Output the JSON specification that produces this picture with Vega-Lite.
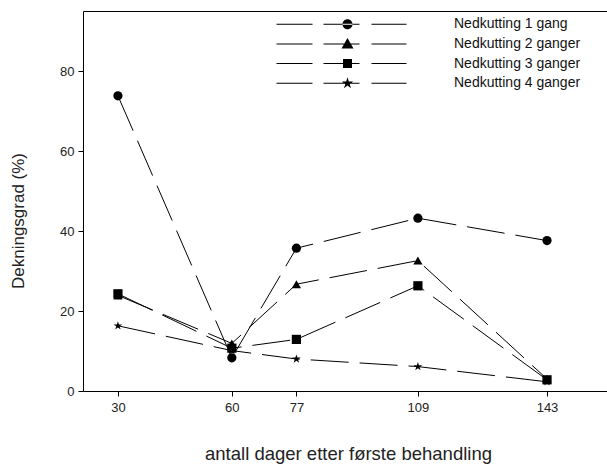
{
  "$schema": "https://vega.github.io/schema/vega-lite/v6.json",
  "width": 524,
  "height": 380,
  "autosize": {"type": "none"},
  "padding": {"left": 83, "top": 11, "right": 0, "bottom": 74},
  "background": "white",
  "config": {
    "view": {"stroke": null},
    "font": "Liberation Sans",
    "axis": {
      "grid": false,
      "domainColor": "black",
      "domainWidth": 1,
      "tickColor": "black",
      "tickSize": 5,
      "labelColor": "#222",
      "titleColor": "#222",
      "labelFontSize": 13,
      "labelFont": "Liberation Sans",
      "titleFont": "Liberation Sans",
      "titleFontWeight": "normal"
    }
  },
  "data": {
    "values": [
      {"dager": 30, "verdi": 73.8, "serie": "Nedkutting 1 gang"},
      {"dager": 60, "verdi": 8.3, "serie": "Nedkutting 1 gang"},
      {"dager": 77, "verdi": 35.7, "serie": "Nedkutting 1 gang"},
      {"dager": 109, "verdi": 43.2, "serie": "Nedkutting 1 gang"},
      {"dager": 143, "verdi": 37.6, "serie": "Nedkutting 1 gang"},
      {"dager": 30, "verdi": 23.9, "serie": "Nedkutting 2 ganger"},
      {"dager": 60, "verdi": 11.9, "serie": "Nedkutting 2 ganger"},
      {"dager": 77, "verdi": 26.7, "serie": "Nedkutting 2 ganger"},
      {"dager": 109, "verdi": 32.6, "serie": "Nedkutting 2 ganger"},
      {"dager": 143, "verdi": 3.0, "serie": "Nedkutting 2 ganger"},
      {"dager": 30, "verdi": 24.3, "serie": "Nedkutting 3 ganger"},
      {"dager": 60, "verdi": 10.7, "serie": "Nedkutting 3 ganger"},
      {"dager": 77, "verdi": 12.9, "serie": "Nedkutting 3 ganger"},
      {"dager": 109, "verdi": 26.3, "serie": "Nedkutting 3 ganger"},
      {"dager": 143, "verdi": 2.8, "serie": "Nedkutting 3 ganger"},
      {"dager": 30, "verdi": 16.3, "serie": "Nedkutting 4 ganger"},
      {"dager": 60, "verdi": 10.1, "serie": "Nedkutting 4 ganger"},
      {"dager": 77, "verdi": 8.0, "serie": "Nedkutting 4 ganger"},
      {"dager": 109, "verdi": 6.1, "serie": "Nedkutting 4 ganger"},
      {"dager": 143, "verdi": 2.3, "serie": "Nedkutting 4 ganger"}
    ]
  },
  "layer": [
    {
      "mark": {"type": "line", "color": "black", "strokeWidth": 1, "strokeDash": [38, 11]},
      "encoding": {
        "x": {
          "field": "dager", "type": "quantitative",
          "scale": {"domain": [20.8, 158.8], "nice": false, "zero": false},
          "axis": {
            "values": [30, 60, 77, 109, 143],
            "title": "antall dager etter første behandling",
            "titleFontSize": 18.5, "labelPadding": 5,
            "titleX": 265, "titleY": 62, "titleBaseline": "middle", "titleAlign": "center"
          }
        },
        "y": {
          "field": "verdi", "type": "quantitative",
          "scale": {"domain": [0, 95], "nice": false},
          "axis": {
            "values": [0, 20, 40, 60, 80],
            "title": "Dekningsgrad (%)",
            "titleFontSize": 17, "labelPadding": 4,
            "titleX": -64.5, "titleY": 209.5, "titleBaseline": "middle", "titleAlign": "center"
          }
        },
        "detail": {"field": "serie"}
      }
    },
    {
      "mark": {"type": "point", "filled": true, "color": "black", "opacity": 1, "size": 85},
      "encoding": {
        "x": {
          "field": "dager", "type": "quantitative",
          "axis": {"orient": "top", "labels": false, "ticks": false, "title": null, "domain": true}
        },
        "y": {"field": "verdi", "type": "quantitative"},
        "shape": {
          "field": "serie", "type": "nominal",
          "scale": {"range": ["circle", "triangle-up", "square", "M0,-1L0.2234,-0.3074L0.9511,-0.309L0.3614,0.1174L0.5878,0.809L0,0.38L-0.5878,0.809L-0.3614,0.1174L-0.9511,-0.309L-0.2234,-0.3074Z"]},
          "legend": null
        }
      }
    },
    {
      "mark": {"type": "point", "filled": true, "fill": "black", "opacity": 0, "size": 1},
      "encoding": {
        "x": {"field": "dager", "type": "quantitative", "axis": null},
        "y": {"field": "verdi", "type": "quantitative"},
        "shape": {
          "field": "serie", "type": "nominal",
          "scale": {"range": [
            "M-6.5,-0.05L-2.9,-0.05L-2.9,0.05L-6.5,0.05ZM-1.8,-0.05L1.8,-0.05L1.8,0.05L-1.8,0.05ZM3,-0.05L6.5,-0.05L6.5,0.05L3,0.05ZM0.1,0A0.5,0.5,0,1,0,1.1,0A0.5,0.5,0,1,0,0.1,0Z",
            "M-6.5,-0.05L-2.9,-0.05L-2.9,0.05L-6.5,0.05ZM-1.8,-0.05L1.8,-0.05L1.8,0.05L-1.8,0.05ZM3,-0.05L6.5,-0.05L6.5,0.05L3,0.05ZM0.6,-0.6L1.2,0.45L0,0.45Z",
            "M-6.5,-0.05L-2.9,-0.05L-2.9,0.05L-6.5,0.05ZM-1.8,-0.05L1.8,-0.05L1.8,0.05L-1.8,0.05ZM3,-0.05L6.5,-0.05L6.5,0.05L3,0.05ZM0.15,-0.45L1.05,-0.45L1.05,0.45L0.15,0.45Z",
            "M-6.5,-0.05L-2.9,-0.05L-2.9,0.05L-6.5,0.05ZM-1.8,-0.05L1.8,-0.05L1.8,0.05L-1.8,0.05ZM3,-0.05L6.5,-0.05L6.5,0.05L3,0.05ZM0.6,-0.6L0.734,-0.1845L1.1707,-0.1854L0.8168,0.0705L0.9527,0.4854L0.6,0.228L0.2473,0.4854L0.3832,0.0705L0.0293,-0.1854L0.466,-0.1845Z"
          ]},
          "legend": {
            "orient": "none",
            "legendX": 248.5,
            "legendY": 3.2,
            "title": null,
            "padding": 0,
            "labelFontSize": 14,
            "labelColor": "#111",
            "labelOffset": 102.5,
            "symbolSize": 400,
            "rowPadding": 2.7,
            "symbolStrokeWidth": 0,
            "symbolFillColor": "black",
            "symbolOpacity": 1
          }
        }
      }
    }
  ],
  "resolve": {"axis": {"x": "independent"}, "scale": {"shape": "independent"}}
}
